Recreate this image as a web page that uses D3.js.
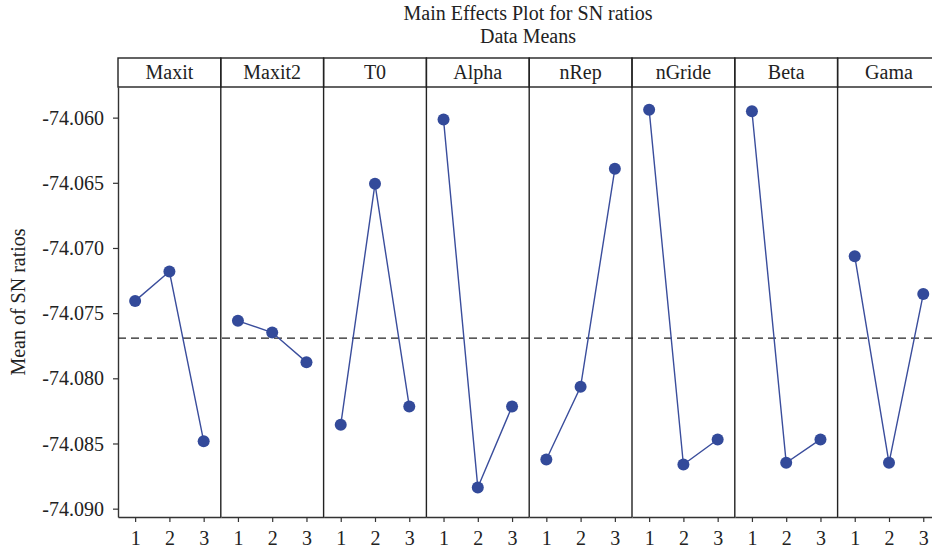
<!DOCTYPE html>
<html>
<head>
<meta charset="utf-8">
<script src="https://cdn.jsdelivr.net/npm/d3@7"></script>
<style>
  html, body { margin: 0; padding: 0; background: #fff; }
  svg { display: block; }
  svg text { font-family: "Liberation Serif", "DejaVu Serif", serif !important; fill: #222; }
</style>
</head>
<body>
<div id="chart"></div>
<script>
// ---- Data ----
const factors = ["Maxit", "Maxit2", "T0", "Alpha", "nRep", "nGride", "Beta", "Gama"];
const levels = ["1", "2", "3"];
const maxitVals  = [-74.07406, -74.07181, -74.08482];
const maxit2Vals = [-74.07559, -74.07649, -74.07876];
const t0Vals     = [-74.08357, -74.06508, -74.08216];
const alphaVals  = [-74.06015, -74.08837, -74.08216];
const nRepVals   = [-74.08623, -74.08065, -74.06393];
const nGrideVals = [-74.05939, -74.08661, -74.08469];
const betaVals   = [-74.05951, -74.08648, -74.08469];
const gamaVals   = [-74.07063, -74.08648, -74.07354];
const yTicks = [-74.060, -74.065, -74.070, -74.075, -74.080, -74.085, -74.090];
const titleLines = ["Main Effects Plot for SN ratios", "Data Means"];
const yLabel = "Mean of SN ratios";

const series = [maxitVals, maxit2Vals, t0Vals, alphaVals, nRepVals, nGrideVals, betaVals, gamaVals];
const grandMean = d3.mean(series.flat());

// ---- Layout ----
const W = 932, H = 554;
const left = 118, panelW = 102.8;
const headerTop = 58, plotTop = 87, plotBottom = 517;
const right = left + panelW * factors.length;
const FS = "20px";

const svg = d3.select("#chart").append("svg")
  .attr("width", W).attr("height", H);

const y = d3.scaleLinear().domain([-74.09064, -74.05765]).range([plotBottom, plotTop]);

const loc = d3.formatLocale({decimal: ".", thousands: ",", grouping: [3], currency: ["", ""], minus: "-"});
const fmt = loc.format(".3f");

// Title
svg.selectAll("text.title").data(titleLines).join("text")
  .attr("class", "title")
  .attr("x", 528).attr("y", (d, i) => 20 + i * 23)
  .attr("text-anchor", "middle")
  .style("font-size", FS)
  .text(d => d);

// Y axis
const yAxis = svg.append("g").attr("transform", `translate(${left},0)`)
  .call(d3.axisLeft(y).tickValues(yTicks).tickFormat(fmt).tickSize(5).tickSizeOuter(0));
yAxis.select(".domain").attr("stroke", "#333").attr("stroke-width", 1.4);
yAxis.selectAll(".tick line").attr("stroke", "#333").attr("stroke-width", 1.2);
yAxis.selectAll(".tick text").attr("x", -14).attr("dy", "0.33em")
  .style("font-size", FS).attr("fill", "#222");

// Y label
svg.append("text")
  .attr("transform", `translate(25,${(plotTop + plotBottom) / 2}) rotate(-90)`)
  .attr("text-anchor", "middle")
  .style("font-size", FS)
  .text(yLabel);

// Mean dashed line
svg.append("line")
  .attr("x1", left).attr("x2", right)
  .attr("y1", y(grandMean)).attr("y2", y(grandMean))
  .attr("stroke", "#222").attr("stroke-width", 1.3)
  .attr("stroke-dasharray", "8,5");

const lineColor = "#3a4d9c";
const dotColor = "#334a9a";

factors.forEach((f, i) => {
  const x0 = left + i * panelW, x1 = x0 + panelW;
  const x = d3.scalePoint().domain(levels).range([x0, x1]).padding(0.5);
  const vals = series[i];
  const pts = levels.map((l, j) => ({l, v: vals[j]}));

  // header cell
  svg.append("rect")
    .attr("x", x0).attr("y", headerTop).attr("width", panelW).attr("height", plotTop - headerTop)
    .attr("fill", "none").attr("stroke", "#222").attr("stroke-width", 1.4);
  svg.append("text")
    .attr("x", (x0 + x1) / 2).attr("y", headerTop + 21)
    .attr("text-anchor", "middle")
    .style("font-size", FS)
    .text(f);

  // panel divider
  svg.append("line")
    .attr("x1", x1).attr("x2", x1).attr("y1", plotTop).attr("y2", plotBottom)
    .attr("stroke", "#222").attr("stroke-width", 1.4);

  // x axis for panel
  const xa = svg.append("g").attr("transform", `translate(0,${plotBottom})`)
    .call(d3.axisBottom(x).tickSize(5).tickSizeOuter(0));
  xa.select(".domain").attr("stroke", "#333").attr("stroke-width", 1.4);
  xa.selectAll(".tick line").attr("stroke", "#333").attr("stroke-width", 1.2);
  xa.selectAll(".tick text").attr("y", 28).attr("dy", 0)
    .style("font-size", FS).attr("fill", "#222");

  // line + points
  svg.append("path").datum(pts)
    .attr("fill", "none").attr("stroke", lineColor).attr("stroke-width", 1.4)
    .attr("d", d3.line().x(d => x(d.l)).y(d => y(d.v)));
  svg.selectAll(null).data(pts).join("circle")
    .attr("cx", d => x(d.l)).attr("cy", d => y(d.v)).attr("r", 6)
    .attr("fill", dotColor);
});
</script>
</body>
</html>
